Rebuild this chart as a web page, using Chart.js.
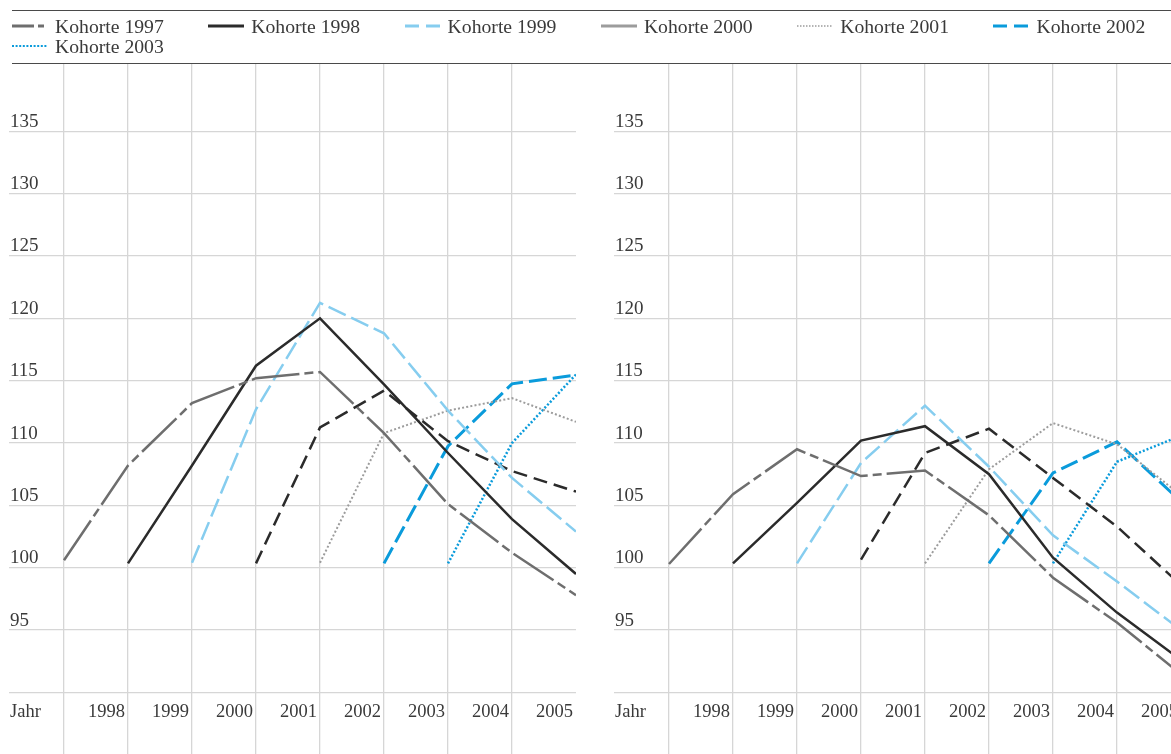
<!DOCTYPE html>
<html>
<head>
<meta charset="utf-8">
<script src="https://cdn.jsdelivr.net/npm/chart.js@4/dist/chart.umd.min.js"></script>
<style>
  html, body { margin: 0; padding: 0; background: #fff; }
  body { width: 1171px; height: 754px; overflow: hidden; position: relative;
         font-family: "Liberation Serif", "Times New Roman", serif; color: #3a3a3a; }
  .panel { position: absolute; top: 0; }
  .rule { position: absolute; left: 12px; right: 0; height: 0; border-top: 1.5px solid #4a4a4a; }
  #legend { position: absolute; left: 12px; top: 16px; width: 1178px; display: flex; flex-wrap: wrap; }
  .item { display: flex; align-items: center; width: 196.3px; height: 20px;
          font-size: 19.7px; line-height: 20px; white-space: nowrap; }
  .item svg { flex: none; margin-right: 7px; }
</style>
</head>
<body>
<canvas id="panelA" class="panel" width="590" height="754" style="left:0"></canvas>
<canvas id="panelB" class="panel" width="590" height="754" style="left:605px"></canvas>
<div class="rule" style="top:10px"></div>
<div id="legend"></div>
<div class="rule" style="top:63px"></div>

<script>
// Years on the horizontal axis and the index ticks on the vertical axis
const years = [1997, 1998, 1999, 2000, 2001, 2002, 2003, 2004, 2005];
const yTicks = [90, 95, 100, 105, 110, 115, 120, 125, 130, 135];
const headerLabel = 'Jahr';
const cohortNames = ['Kohorte 1997', 'Kohorte 1998', 'Kohorte 1999', 'Kohorte 2000',
                     'Kohorte 2001', 'Kohorte 2002', 'Kohorte 2003'];

// Left panel: index per cohort (start year = 100)
const panelA1997 = [100.6, 108.2, 113.2, 115.2, 115.7, 110.8, 105.1, 101.2, 97.8];
const panelA1998 = [null, 100.35, 108.2, 116.2, 120.0, 114.7, 109.2, 103.9, 99.5];
const panelA1999 = [null, null, 100.4, 112.7, 121.25, 118.8, 112.6, 107.2, 102.9];
const panelA2000 = [null, null, null, 100.35, 111.25, 114.2, 110.15, 107.75, 106.1];
const panelA2001 = [null, null, null, null, 100.4, 110.8, 112.6, 113.6, 111.7];
const panelA2002 = [null, null, null, null, null, 100.35, 109.75, 114.75, 115.45];
const panelA2003 = [null, null, null, null, null, null, 100.35, 110.0, 115.5];

// Right panel
const panelB1997 = [100.3, 105.9, 109.5, 107.35, 107.8, 104.2, 99.2, 95.6, 91.45];
const panelB1998 = [null, 100.35, 105.2, 110.2, 111.35, 107.5, 100.8, 96.4, 92.6];
const panelB1999 = [null, null, 100.35, 108.4, 113.0, 108.1, 102.6, 98.9, 95.0];
const panelB2000 = [null, null, null, 100.65, 109.2, 111.15, 107.2, 103.3, 98.6];
const panelB2001 = [null, null, null, null, 100.35, 107.9, 111.6, 109.9, 105.8];
const panelB2002 = [null, null, null, null, null, 100.35, 107.6, 110.1, 105.3];
const panelB2003 = [null, null, null, null, null, null, 100.35, 108.5, 110.6];

// Line styles per cohort
const lineColors = ['#6e6e6e', '#2b2b2b', '#86cdef', '#2b2b2b', '#9c9c9c', '#0a9bdb', '#0a9bdb'];
const lineWidths = [2.5, 2.5, 2.5, 2.5, 2, 3, 2.5];
const lineDashes = [[48, 5, 9, 5], [], [19, 6], [14, 7], [2, 2.2], [18, 6], [2, 2]];

// Legend keys (the 2000 key is drawn as a plain grey rule)
const keyColors = ['#6e6e6e', '#2b2b2b', '#86cdef', '#9c9c9c', '#9c9c9c', '#0a9bdb', '#0a9bdb'];
const keyWidths = [3, 3, 3, 3, 1.5, 3, 2];
const keyDashes = ['22 4 6 4', '', '14 7', '', '1.5 1.5', '14 7', '2 1.6'];

const textColor = '#3a3a3a';
const gridColor = '#d6d6d6';
const serif = '"Liberation Serif", "Times New Roman", serif';

// Legend
const legend = document.getElementById('legend');
cohortNames.forEach((name, i) => {
  const item = document.createElement('div');
  item.className = 'item';
  item.innerHTML =
    '<svg width="36" height="10"><line x1="0" y1="5" x2="36" y2="5" stroke="' + keyColors[i] +
    '" stroke-width="' + keyWidths[i] + '"' + (keyDashes[i] ? ' stroke-dasharray="' + keyDashes[i] + '"' : '') +
    '/></svg><span>' + name + '</span>';
  legend.appendChild(item);
});

// "Jahr" heading in the year-label row
const yearHeader = {
  id: 'yearHeader',
  afterDraw(chart) {
    const { ctx, chartArea, scales } = chart;
    const y = scales.y.getPixelForValue(90) + 8.5 + 11.1;
    ctx.save();
    ctx.font = '18.5px ' + serif;
    ctx.fillStyle = textColor;
    ctx.textAlign = 'left';
    ctx.textBaseline = 'middle';
    ctx.fillText(headerLabel, chartArea.left + 1, y);
    ctx.restore();
  }
};

function makePanel(id, series) {
  return new Chart(document.getElementById(id), {
    type: 'line',
    data: {
      datasets: series.map((vals, i) => ({
        label: cohortNames[i],
        data: years.map((x, j) => ({ x: x, y: vals[j] })).filter(p => p.y !== null),
        borderColor: lineColors[i],
        borderWidth: lineWidths[i],
        borderDash: lineDashes[i],
        borderCapStyle: 'butt',
        borderJoinStyle: 'miter',
        pointRadius: 0,
        fill: false,
        tension: 0
      }))
    },
    options: {
      responsive: false,
      animation: false,
      layout: { padding: { left: 9, right: 14, top: 64, bottom: 0 } },
      plugins: { legend: { display: false }, tooltip: { enabled: false } },
      scales: {
        x: {
          type: 'linear',
          position: { y: 90 },
          min: 1996 + 9 / 64,
          max: 2005,
          afterBuildTicks: s => { s.ticks = years.map(v => ({ value: v })); },
          afterFit: s => { s.height = 0; s.paddingLeft = 0; s.paddingRight = 0; },
          grid: {
            color: c => (c.tick && c.tick.value === 2005) ? 'rgba(0,0,0,0)' : gridColor,
            lineWidth: 1.3,
            drawTicks: false
          },
          border: { display: false },
          ticks: {
            callback: v => v === 1997 ? '' : String(v),
            align: 'end',
            labelOffset: -3,
            padding: 9,
            maxRotation: 0,
            autoSkip: false,
            color: textColor,
            font: { family: serif, size: 18.5 }
          }
        },
        y: {
          min: 90 - (754 - 692.4) / 12.47,
          max: 140.4,
          afterBuildTicks: s => { s.ticks = yTicks.map(v => ({ value: v })); },
          afterFit: s => { s.width = 0; s.paddingTop = 0; s.paddingBottom = 0; },
          grid: { color: gridColor, lineWidth: 1.3, drawTicks: false },
          border: { display: false },
          ticks: {
            mirror: true,
            padding: 1,
            labelOffset: -9.5,
            callback: v => v === 90 ? '' : String(v),
            color: textColor,
            font: { family: serif, size: 19 }
          }
        }
      }
    },
    plugins: [yearHeader]
  });
}

makePanel('panelA', [panelA1997, panelA1998, panelA1999, panelA2000, panelA2001, panelA2002, panelA2003]);
makePanel('panelB', [panelB1997, panelB1998, panelB1999, panelB2000, panelB2001, panelB2002, panelB2003]);
</script>
</body>
</html>
